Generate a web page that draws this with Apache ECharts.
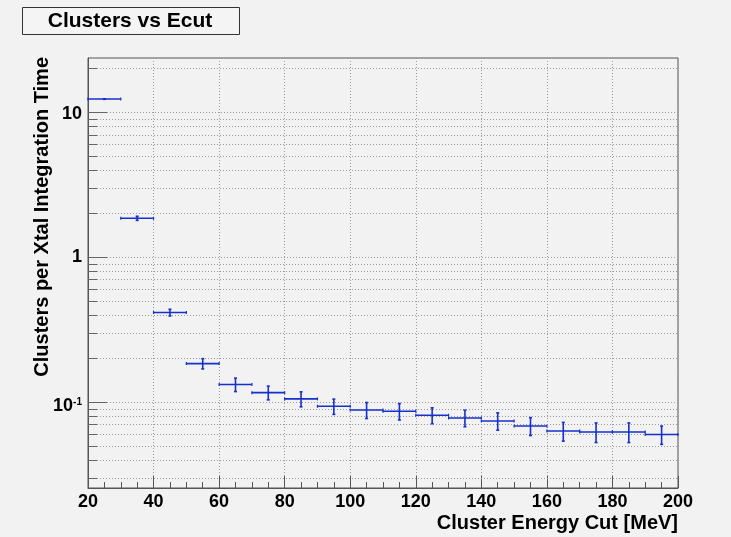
<!DOCTYPE html>
<html><head><meta charset="utf-8">
<script src="https://cdn.jsdelivr.net/npm/echarts@6/dist/echarts.min.js"></script>
<style>html,body{margin:0;padding:0;background:#f2f2f2;}#c{width:731px;height:537px;}</style>
</head><body><div id="c"></div>
<script>
// Bin centers (MeV), bin width 10
const binCenters = [25,35,45,55,65,75,85,95,105,115,125,135,145,155,165,175,185,195];
const binWidth = 10;
const clusters = [12.3,1.85,0.414,0.184,0.132,0.116,0.105,0.0934,0.088,0.0863,0.081,0.0776,0.074,0.0683,0.063,0.0621,0.0621,0.0596];
const errors = [0.05,0.06,0.022,0.015,0.014,0.0126,0.0124,0.0113,0.0111,0.0112,0.0102,0.0101,0.0101,0.0096,0.0093,0.0096,0.0096,0.0086];
// y-axis tick values (log scale, ROOT-like minor ticks)
const yMajorTicks = [0.1,1,10];
const yMinorTicks = [0.03,0.04,0.05,0.06,0.07,0.08,0.09,0.2,0.3,0.4,0.5,0.6,0.7,0.8,0.9,2,3,4,5,6,7,8,9,20];
const xTicks = [20,40,60,80,100,120,140,160,180,200];

const FONT = '"Liberation Sans", Arial, sans-serif';
const chart = echarts.init(document.getElementById('c'), null, {renderer:'canvas'});

const tickData = yMajorTicks.map(v=>[v,1]).concat(yMinorTicks.map(v=>[v,0]));

chart.setOption({
  backgroundColor:'#f2f2f2',
  animation:false,
  grid:{left:88,right:53,top:58,bottom:49,show:true,borderColor:'#555',borderWidth:1,backgroundColor:'#f2f2f2'},
  xAxis:{type:'value',min:20,max:200,interval:20,
    axisLine:{show:true,lineStyle:{color:'#555',width:1}},
    axisTick:{show:true,inside:true,length:12,lineStyle:{color:'#555'}},
    minorTick:{show:true,splitNumber:4,length:6,lineStyle:{color:'#555'}},
    splitLine:{show:true,lineStyle:{color:'#9a9a9a',type:[1,2],width:1}},
    axisLabel:{fontFamily:FONT,fontWeight:'bold',fontSize:18,color:'#000',margin:5},
    name:'Cluster Energy Cut [MeV]',nameLocation:'end',nameGap:0,
    nameTextStyle:{fontFamily:FONT,fontWeight:'bold',fontSize:20,color:'#000',align:'right',verticalAlign:'top',padding:[25,0,0,0]}
  },
  yAxis:{type:'log',logBase:10,min:0.0255,max:23.6,
    axisLine:{show:true,lineStyle:{color:'#555',width:1}},
    axisTick:{show:false},
    splitLine:{show:false},
    axisLabel:{fontFamily:FONT,fontWeight:'bold',fontSize:18,color:'#000',margin:6,
      showMinLabel:false,showMaxLabel:false,
      formatter:function(v){
        if(Math.abs(v-10)<1e-6) return '{t|10}';
        if(Math.abs(v-1)<1e-6) return '1';
        if(Math.abs(v-0.1)<1e-7) return '{b|10}{s|-1}';
        return '';
      },
      rich:{t:{fontFamily:FONT,fontWeight:'bold',fontSize:18,color:'#000',padding:[4,0,0,0]},
            b:{fontFamily:FONT,fontWeight:'bold',fontSize:18,color:'#000',padding:[9,0,0,0]},
            s:{fontFamily:FONT,fontWeight:'bold',fontSize:10,color:'#000'}}
    }
  },
  graphic:[
    {type:'rect',shape:{x:22.5,y:7.5,width:217,height:27},style:{fill:'#f4f4f4',stroke:'#333',lineWidth:1},z:10},
    {type:'text',x:130,y:21,style:{text:'Clusters vs Ecut',font:'bold 21px '+FONT,fill:'#000',textAlign:'center',textVerticalAlign:'middle'},z:11},
    {type:'text',x:42,y:57,rotation:Math.PI/2,style:{text:'Clusters per Xtal Integration Time',font:'bold 20px '+FONT,fill:'#000',textAlign:'right',textVerticalAlign:'middle'},z:11}
  ],
  series:[
    {type:'custom',name:'yticks',silent:true,z:1,
      data:tickData,
      renderItem:function(params,api){
        const v=api.value(0), major=api.value(1);
        const p0=api.coord([20,v]), p1=api.coord([200,v]);
        const len=major?19:9;
        const yy=Math.round(p0[1])+0.5;
        return {type:'group',children:[
          {type:'line',shape:{x1:p0[0]+len,y1:yy,x2:p1[0],y2:yy},style:{stroke:'#9a9a9a',lineWidth:1,lineDash:[1,2]}},
          {type:'line',shape:{x1:p0[0],y1:yy,x2:p0[0]+len,y2:yy},style:{stroke:'#666',lineWidth:1}}
        ]};
      }
    },
    {type:'custom',name:'Clusters',z:5,
      data:binCenters.map((x,i)=>[x,clusters[i],errors[i]]),
      renderItem:function(params,api){
        const x=api.value(0), y=api.value(1), e=api.value(2);
        const pL=api.coord([x-binWidth/2,y]), pR=api.coord([x+binWidth/2,y]);
        const pT=api.coord([x,y+e]), pB=api.coord([x,y-e]);
        const col='#1530cc';
        return {type:'group',children:[
          {type:'line',shape:{x1:pL[0],y1:pL[1],x2:pR[0],y2:pR[1]},style:{stroke:col,lineWidth:1.6}},
          {type:'line',shape:{x1:pT[0],y1:pT[1],x2:pB[0],y2:pB[1]},style:{stroke:col,lineWidth:1.6}},
          {type:'line',shape:{x1:pT[0]-1.5,y1:pT[1],x2:pT[0]+1.5,y2:pT[1]},style:{stroke:col,lineWidth:1.6}},
          {type:'line',shape:{x1:pB[0]-1.5,y1:pB[1],x2:pB[0]+1.5,y2:pB[1]},style:{stroke:col,lineWidth:1.6}},
          {type:'line',shape:{x1:pL[0],y1:pL[1]-1.5,x2:pL[0],y2:pL[1]+1.5},style:{stroke:col,lineWidth:1.2}},
          {type:'line',shape:{x1:pR[0],y1:pR[1]-1.5,x2:pR[0],y2:pR[1]+1.5},style:{stroke:col,lineWidth:1.2}}
        ]};
      }
    }
  ]
});
</script></body></html>
